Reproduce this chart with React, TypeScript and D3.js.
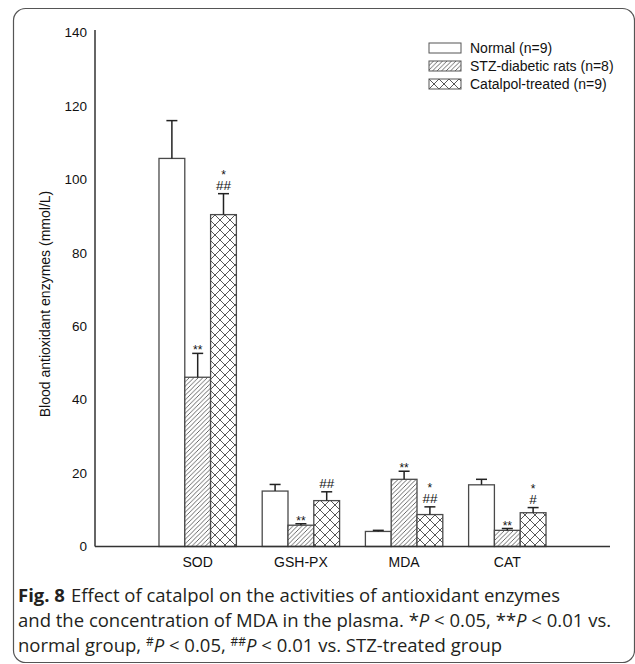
import React from "react";
import * as d3 from "d3";

const categories = ["SOD", "GSH-PX", "MDA", "CAT"];
const seriesNames = ["Normal (n=9)", "STZ-diabetic rats (n=8)", "Catalpol-treated (n=9)"];
const normalValues = [105.7, 15.1, 4.1, 16.8];
const normalErrors = [10.3, 1.8, 0.3, 1.5];
const stzValues = [46.1, 5.8, 18.3, 4.4];
const stzErrors = [6.5, 0.4, 2.2, 0.5];
const catalpolValues = [90.4, 12.5, 8.7, 9.2];
const catalpolErrors = [5.7, 2.4, 2.1, 1.4];
const starLabels = [
  ["", "", "", ""],
  ["**", "**", "**", "**"],
  ["*", "", "*", "*"],
];
const hashLabels = [
  ["", "", "", ""],
  ["", "", "", ""],
  ["##", "##", "##", "#"],
];
const yTicks = [0, 20, 40, 60, 80, 100, 120, 140];

const W = 635;
const H = 664;
const fills = ["#ffffff", "url(#hatch)", "url(#cross)"];

export default function App() {
  const values = [normalValues, stzValues, catalpolValues];
  const errors = [normalErrors, stzErrors, catalpolErrors];
  const y = d3.scaleLinear().domain([0, 140]).range([546.5, 32.5]);
  const x = d3
    .scaleBand<string>()
    .domain(categories)
    .range([95, 610])
    .paddingInner(0.25)
    .paddingOuter(0.62);
  const inner = d3
    .scaleBand<number>()
    .domain([0, 1, 2])
    .range([0, x.bandwidth()]);
  const font = "'Liberation Sans', Arial, sans-serif";
  const capFont = "'Open Sans', 'Noto Sans', sans-serif";

  return (
    <svg
      width={W}
      height={H}
      style={{ position: "absolute", left: 0, top: 0, background: "#fff" }}
    >
      <defs>
        <pattern id="hatch" patternUnits="userSpaceOnUse" width="4.5" height="4.5">
          <rect width="4.5" height="4.5" fill="#fff" />
          <path
            d="M-1,1 L1,-1 M0,4.5 L4.5,0 M3.5,5.5 L5.5,3.5"
            stroke="#444"
            strokeWidth="0.8"
          />
        </pattern>
        <pattern id="cross" patternUnits="userSpaceOnUse" width="10" height="10">
          <rect width="10" height="10" fill="#fff" />
          <path d="M0,0 L10,10 M10,0 L0,10" stroke="#444" strokeWidth="0.9" />
        </pattern>
      </defs>

      <rect
        x={13.5}
        y={8.5}
        width={621}
        height={654}
        rx={12}
        fill="none"
        stroke="#555"
        strokeWidth={1.2}
      />

      {/* bars */}
      {categories.map((c, ci) =>
        values.map((vals, si) => {
          const bx = (x(c) as number) + (inner(si) as number);
          const bw = inner.bandwidth();
          const top = y(vals[ci]);
          const errTop = y(vals[ci] + errors[si][ci]);
          const cx = bx + bw / 2;
          return (
            <g key={c + si}>
              <rect
                x={bx}
                y={top}
                width={bw}
                height={y(0) - top}
                fill={fills[si]}
                stroke="#4a4a4a"
                strokeWidth={1.3}
              />
              <line x1={cx} x2={cx} y1={top} y2={errTop} stroke="#222" strokeWidth={1.5} />
              <line x1={cx - 5.5} x2={cx + 5.5} y1={errTop} y2={errTop} stroke="#222" strokeWidth={1.5} />
              {hashLabels[si][ci] && (
                <text
                  x={cx}
                  y={errTop - 4}
                  textAnchor="middle"
                  fontFamily={font}
                  fontSize={13.5}
                  fill="#111"
                >
                  {hashLabels[si][ci]}
                </text>
              )}
              {starLabels[si][ci] && (
                <text
                  x={cx}
                  y={hashLabels[si][ci] ? errTop - 14.5 : errTop + 1}
                  textAnchor="middle"
                  fontFamily={font}
                  fontSize={12}
                  fill="#111"
                >
                  {starLabels[si][ci]}
                </text>
              )}
            </g>
          );
        })
      )}

      {/* axes */}
      <line x1={95} x2={95} y1={30} y2={y(0)} stroke="#333" strokeWidth={1.5} />
      <line x1={95} x2={610} y1={y(0)} y2={y(0)} stroke="#333" strokeWidth={1.5} />
      {yTicks.map((t) => (
        <text
          key={t}
          x={87}
          y={y(t)}
          dy="0.35em"
          textAnchor="end"
          fontFamily={font}
          fontSize={13.5}
          fill="#111"
        >
          {t}
        </text>
      ))}
      {categories.map((c) => (
        <text
          key={c}
          x={(x(c) as number) + x.bandwidth() / 2}
          y={567}
          textAnchor="middle"
          fontFamily={font}
          fontSize={14}
          fill="#111"
        >
          {c}
        </text>
      ))}
      <text
        transform={`translate(50,304) rotate(-90)`}
        textAnchor="middle"
        fontFamily={font}
        fontSize={14}
        fill="#111"
      >
        Blood antioxidant enzymes (mmol/L)
      </text>

      {/* legend */}
      {seriesNames.map((n, i) => (
        <g key={n} transform={`translate(429,${43 + i * 18})`}>
          <rect width={32} height={10} fill={fills[i]} stroke="#555" strokeWidth={1} />
          <text x={41} y={5} dy="0.35em" fontFamily={font} fontSize={14} fill="#111">
            {n}
          </text>
        </g>
      ))}

      {/* caption */}
      <g fontFamily={capFont} fontSize={18.5} fill="#231f20">
        <text x={18} y={602}>
          <tspan fontWeight="bold">Fig. 8</tspan>
          <tspan dx={6}>Effect of catalpol on the activities of antioxidant enzymes</tspan>
        </text>
        <text x={18} y={627}>
          and the concentration of MDA in the plasma. *<tspan fontStyle="italic">P</tspan> &lt; 0.05, **
          <tspan fontStyle="italic">P</tspan> &lt; 0.01 vs.
        </text>
        <text x={18} y={652}>
          normal group, <tspan fontSize={12} dy={-6}>#</tspan>
          <tspan fontStyle="italic" dy={6}>P</tspan> &lt; 0.05,{" "}
          <tspan fontSize={12} dy={-6}>##</tspan>
          <tspan fontStyle="italic" dy={6}>P</tspan> &lt; 0.01 vs. STZ-treated group
        </text>
      </g>
    </svg>
  );
}
